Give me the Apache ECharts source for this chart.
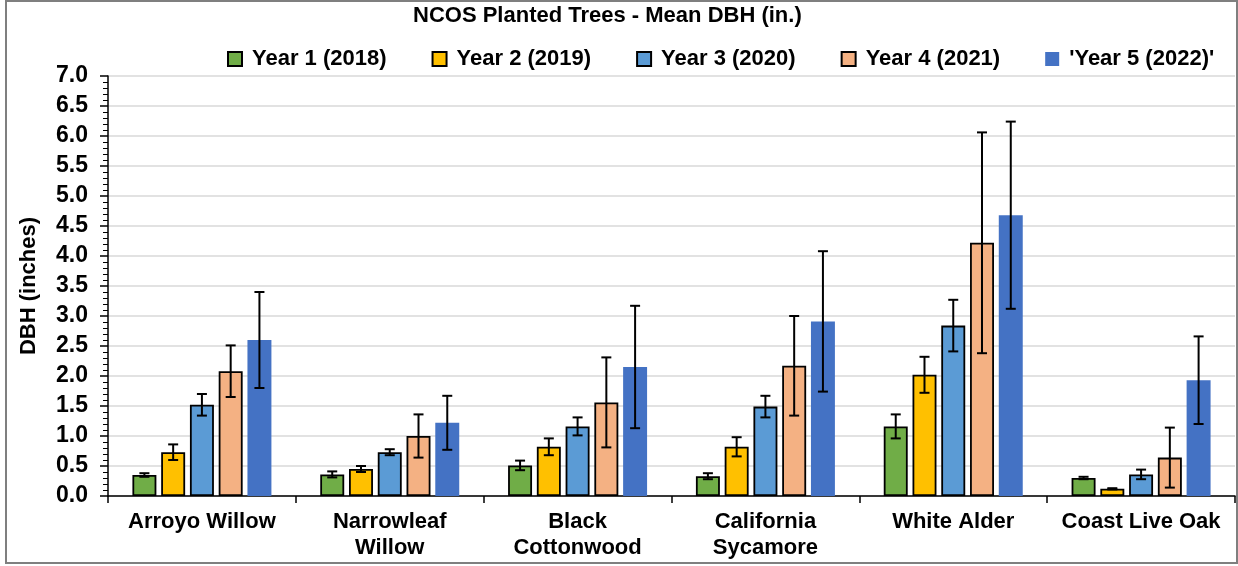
<!DOCTYPE html>
<html>
<head>
<meta charset="utf-8">
<script src="https://cdn.jsdelivr.net/npm/echarts@6/dist/echarts.min.js"></script>
<style>
    html, body { margin: 0; padding: 0; background: #fff; }
    #chart { width: 1238px; height: 566px; }
    #frame { position: absolute; left: 5px; top: 0; width: 1229px; height: 560px; border: 2px solid #7f7f7f; pointer-events: none; }
</style>
</head>
<body>
<div id="chart"></div>
<div id="frame"></div>
<script>
const categories = ['Arroyo Willow', 'Narrowleaf\nWillow', 'Black\nCottonwood', 'California\nSycamore', 'White Alder', 'Coast Live Oak'];
const seriesNames = ['Year 1 (2018)', 'Year 2 (2019)', 'Year 3 (2020)', 'Year 4 (2021)', "'Year 5 (2022)'"];
const colors = ['#70ad47', '#ffc000', '#5b9bd5', '#f4b183', '#4472c4'];

// mean DBH per species
const year1 = [0.35, 0.36, 0.51, 0.33, 1.16, 0.30];
const year2 = [0.73, 0.45, 0.82, 0.82, 2.02, 0.12];
const year3 = [1.52, 0.73, 1.16, 1.49, 2.84, 0.36];
const year4 = [2.08, 1.00, 1.56, 2.17, 4.22, 0.64];
const year5 = [2.60, 1.22, 2.15, 2.91, 4.68, 1.93];

// error bar half-widths
const year1Err = [0.03, 0.05, 0.08, 0.05, 0.20, 0.02];
const year2Err = [0.13, 0.05, 0.14, 0.16, 0.30, 0.01];
const year3Err = [0.18, 0.05, 0.15, 0.18, 0.43, 0.08];
const year4Err = [0.43, 0.36, 0.75, 0.83, 1.84, 0.50];
const year5Err = [0.80, 0.45, 1.02, 1.17, 1.56, 0.73];

const yTicks = { min: 0, max: 7, interval: 0.5 };

const means = [year1, year2, year3, year4, year5];
const errs = [year1Err, year2Err, year3Err, year4Err, year5Err];

const CAT_GAP = 0.26;
const BAR_GAP = 0.2;
const FONT = '"Liberation Sans", Arial, sans-serif';

function barSeries(idx) {
    return {
        name: seriesNames[idx],
        type: 'bar',
        data: means[idx],
        barGap: (BAR_GAP * 100) + '%',
        barCategoryGap: (CAT_GAP * 100) + '%',
        itemStyle: idx < 4
            ? { color: colors[idx], borderColor: '#000', borderWidth: 1.8 }
            : { color: colors[idx] }
    };
}

function errorSeries(idx) {
    const n = seriesNames.length;
    return {
        name: seriesNames[idx] + ' err',
        type: 'custom',
        z: 10,
        data: means[idx].map((m, i) => [i, m - errs[idx][i], m + errs[idx][i]]),
        encode: { x: 0, y: [1, 2] },
        renderItem: (params, api) => {
            const cat = api.value(0);
            const lo = api.coord([cat, api.value(1)]);
            const hi = api.coord([cat, api.value(2)]);
            const band = api.size([1, 0])[0];
            const usable = band * (1 - CAT_GAP);
            const barW = usable / (n + (n - 1) * BAR_GAP);
            const x = lo[0] - usable / 2 + idx * barW * (1 + BAR_GAP) + barW / 2;
            const cap = 5;
            const style = { stroke: '#000', lineWidth: 2 };
            return {
                type: 'group',
                children: [
                    { type: 'line', shape: { x1: x, y1: hi[1], x2: x, y2: lo[1] }, style: style },
                    { type: 'line', shape: { x1: x - cap, y1: hi[1], x2: x + cap, y2: hi[1] }, style: style },
                    { type: 'line', shape: { x1: x - cap, y1: lo[1], x2: x + cap, y2: lo[1] }, style: style }
                ]
            };
        }
    };
}

let chart = echarts.init(document.getElementById('chart'));

let option = {
    animation: false,
    textStyle: { fontFamily: FONT },
    title: {
        text: 'NCOS Planted Trees - Mean DBH (in.)',
        left: 408,
        top: 0,
        textStyle: { fontSize: 22, fontWeight: 'bold', color: '#000', fontFamily: FONT }
    },
    legend: {
        data: seriesNames,
        left: 222,
        top: 43,
        icon: 'rect',
        itemWidth: 14,
        itemHeight: 14,
        itemGap: 45,
        textStyle: { fontSize: 22, fontWeight: 'bold', color: '#000', fontFamily: FONT, padding: [0, 0, 0, 5] }
    },
    grid: { left: 108, right: 3, top: 76, bottom: 70 },
    xAxis: {
        type: 'category',
        data: categories,
        axisLine: { lineStyle: { color: '#000', width: 1.5 } },
        axisTick: { show: true, length: 7, lineStyle: { color: '#000', width: 1.5 } },
        axisLabel: {
            color: '#000', fontSize: 22, fontWeight: 'bold', fontFamily: FONT,
            lineHeight: 26, margin: 13, interval: 0
        }
    },
    yAxis: {
        type: 'value',
        min: yTicks.min,
        max: yTicks.max,
        interval: yTicks.interval,
        name: 'DBH (inches)',
        nameLocation: 'middle',
        nameGap: 68,
        nameTextStyle: { color: '#000', fontSize: 22, fontWeight: 'bold', fontFamily: FONT },
        axisLine: { show: true, lineStyle: { color: '#000', width: 1.5 } },
        axisTick: { show: true, length: 8, lineStyle: { color: '#000', width: 1.5 } },
        minorTick: { show: true, splitNumber: 5, length: 5, lineStyle: { color: '#000', width: 1 } },
        axisLabel: {
            color: '#000', fontSize: 23, fontWeight: 'bold', fontFamily: FONT, margin: 20,
            formatter: v => v.toFixed(1)
        },
        splitLine: { lineStyle: { color: '#d9d9d9', width: 1.5 } }
    },
    series: [0, 1, 2, 3, 4].map(barSeries).concat([0, 1, 2, 3, 4].map(errorSeries))
};

chart.setOption(option);
</script>
</body>
</html>
